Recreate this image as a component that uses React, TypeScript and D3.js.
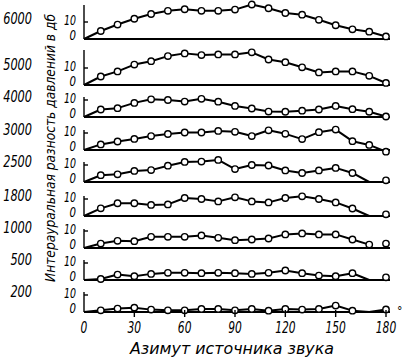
import React from 'react';
import * as d3 from 'd3';

// azimuth of measured points (deg)
const azimuths = [10, 20, 30, 40, 50, 60, 70, 80, 90, 100, 110, 120, 130, 140, 150, 160, 170, 180];
const xTicks = [0, 30, 60, 90, 120, 150, 180];
const freqLabels = ['6000', '5000', '4000', '3000', '2500', '1800', '1000', '500', '200'];

// interaural pressure difference, dB (0 = no marker)
const v6000 = [4.7, 8.5, 11.9, 14.7, 16.6, 17.5, 16.6, 16.6, 17.3, 20.3, 18.1, 15.3, 14.3, 11.3, 8.1, 5.7, 4.3, 1.5];
const v5000 = [5, 8, 12, 14, 17, 18.6, 17.6, 18, 18, 19.2, 15, 13.4, 10.4, 7.4, 8, 8, 5.4, 1.2];
const v4000 = [4.4, 5.2, 8.3, 10.4, 10, 9.1, 10.7, 9, 6.5, 5, 3.2, 3.1, 3.7, 4.4, 6.5, 4.6, 3.1, 0.3];
const v3000 = [3.3, 5, 6.5, 8.2, 9.4, 10.3, 10.3, 11.2, 10.7, 8.2, 11.6, 9.5, 6.4, 10.5, 12, 5.2, 3, -1];
const v2500 = [4, 4.5, 6.5, 7, 9.6, 11.8, 12, 13, 7.6, 10, 9.7, 6.8, 5.3, 6.8, 8.3, 5.3, 0, 1];
const v1800 = [4.5, 7.5, 7.5, 6.5, 6.8, 10.6, 10, 8.6, 11, 8.6, 8, 10.6, 11.6, 10, 8, 4.4, 0, 1];
const v1000 = [2.6, 4.2, 4, 6.6, 6.6, 6.6, 7.4, 6, 4.6, 5, 5.6, 8, 8.6, 8, 8, 5, 2, 2.6];
const v500 = [0.6, 3.2, 2.2, 3.6, 4.2, 4.2, 4, 4.2, 4, 3.6, 4.2, 5.6, 4, 2.6, 2.2, 4, 0, 1.6];
const v200 = [1, 2, 2.5, 1.4, 1, 1, 1.8, 1.8, 1, 1.8, 0.8, 1.8, 1.4, 1.8, 3.8, 0.8, 0, 1.5];
const series = [v6000, v5000, v4000, v3000, v2500, v1800, v1000, v500, v200];
// is the 180° point joined to the curve
const lastJoined = [true, true, true, true, false, false, false, false, true];

const W = 402;
const H = 362;
const baselines = [39, 85, 117, 150, 182, 216, 248, 280, 312];
const axisTops = [5, 50, 97, 130, 162, 196, 229, 260, 292];
const font = "'DejaVu Sans Condensed', 'DejaVu Sans', sans-serif";

// narrow, tall digits like the printed figure
const digitW = 7.2;

const App = () => {
  const x = d3.scaleLinear().domain([0, 180]).range([84, 386]);
  const xEnd = 390;

  return (
    <svg width={W} height={H} style={{ position: 'absolute', left: 0, top: 0, background: '#fff' }}
      fontFamily={font} fontStyle="italic">
      {series.map((vals, i) => {
        const base = baselines[i];
        const y = d3.scaleLinear().domain([0, 10]).range([base, base - 17]);
        const pts: [number, number][] = [[0, 0], ...azimuths.map((a, j) => [a, vals[j]] as [number, number])];
        const linePts = lastJoined[i] ? pts : pts.slice(0, pts.length - 1);
        const line = d3.line<[number, number]>().x(d => x(d[0])).y(d => y(d[1]));
        const lab = freqLabels[i];
        return (
          <g key={i}>
            <text x={32} y={y(10) - 3} textAnchor="end" dominantBaseline="middle" fontSize={15}
              textLength={lab.length * digitW} lengthAdjust="spacingAndGlyphs">{lab}</text>
            <line x1={x(0)} x2={x(0)} y1={axisTops[i]} y2={base} stroke="#000" strokeWidth={1.4} />
            <line x1={x(0)} x2={x(0) + 4} y1={y(10)} y2={y(10)} stroke="#000" strokeWidth={1.4} />
            <line x1={x(0)} x2={xEnd} y1={base} y2={base} stroke="#000" strokeWidth={2} />
            <text x={76} y={y(10) - 1} textAnchor="end" dominantBaseline="middle" fontSize={14}
              textLength={12} lengthAdjust="spacingAndGlyphs">10</text>
            <text x={76} y={base - 3} textAnchor="end" dominantBaseline="middle" fontSize={14}
              textLength={6.5} lengthAdjust="spacingAndGlyphs">0</text>
            <path d={line(linePts) ?? ''} fill="none" stroke="#000" strokeWidth={2} strokeLinejoin="round" />
            {azimuths.map((a, j) => vals[j] === 0 ? null : (
              <circle key={a} cx={x(a)} cy={y(vals[j])} r={3.2} fill="#fff" stroke="#000" strokeWidth={1.4} />
            ))}
          </g>
        );
      })}
      {xTicks.map(t => (
        <g key={t}>
          {t > 0 && <line x1={x(t)} x2={x(t)} y1={baselines[8] - 2} y2={baselines[8] + 5} stroke="#000" strokeWidth={1.4} />}
          <text x={x(t)} y={328} textAnchor="middle" dominantBaseline="middle" fontSize={15}
            textLength={String(t).length * 6.8} lengthAdjust="spacingAndGlyphs">{t}</text>
        </g>
      ))}
      <text x={x(180) + 11} y={311} textAnchor="start" dominantBaseline="middle" fontSize={12}>°</text>
      <text x={232} y={349} textAnchor="middle" dominantBaseline="middle" fontSize={15}
        textLength={204} lengthAdjust="spacingAndGlyphs">Азимут источника звука</text>
      <text transform="translate(51,148) rotate(-90)" textAnchor="middle" dominantBaseline="middle" fontSize={14}
        textLength={268} lengthAdjust="spacingAndGlyphs">Интерауральная разность давлений в дб</text>
    </svg>
  );
};

export default App;
